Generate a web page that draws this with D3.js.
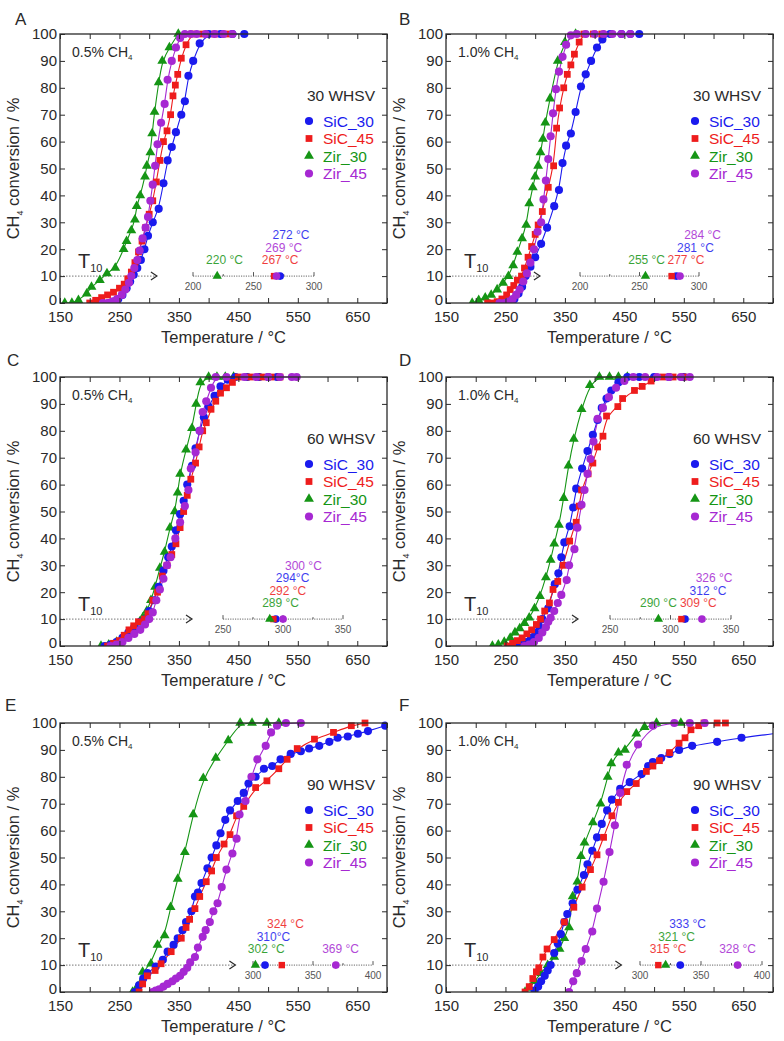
<!DOCTYPE html>
<html><head><meta charset="utf-8">
<script src="https://cdn.jsdelivr.net/npm/d3@7"></script>
<style>
body{margin:0;background:#fff}
svg{display:block}
text{font-family:"Liberation Sans",Arial,Helvetica,sans-serif}
</style>
</head><body><svg id="c" width="784" height="1041"></svg>
<script>
// ---------------- DATA ----------------
const seriesNames = ["SiC_30","SiC_45","Zir_30","Zir_45"];
const xTickValues = [150,200,250,300,350,400,450,500,550,600,650,700];
const xTickLabels = [150,250,350,450,550,650];
const yTickValues = [0,10,20,30,40,50,60,70,80,90,100];

// Panel A : 0.5% CH4, 30 WHSV  [T (°C), conversion (%)]
const A_SiC30 = [[232,0],[240,0.5],[248,1.5],[255,3],[262,5.5],[268,8],[274,10.5],[280,13],[286,16],[292,20],[298,25],[306,30],[316,35],[324,44.5],[331,53],[338,58],[345,63.5],[354,70],[360,75],[366,84.5],[374,90],[385,96.5],[400,100],[420,100],[440,100],[460,100]];
const A_SiC45 = [[200,0],[210,1],[220,2],[230,3],[240,4],[250,5.5],[258,7],[264,9],[270,11.5],[276,15],[282,19],[288,23],[294,28],[300,33],[306,38],[312,45],[318,53],[324,60],[330,64],[336,70],[340,77],[344,81],[348,85],[354,91],[362,96],[372,100],[390,100],[410,100],[430,100]];
const A_Zir30 = [[158,0],[170,0],[181,1],[195,3.5],[203,6],[217,8.5],[229,11],[243,13],[257,20],[262,23],[270,27],[276,31],[279,36],[285,40],[293,47],[296,51],[302,56],[305,63],[309,71],[316,82],[322,90],[334,95],[349,100]];
const A_Zir45 = [[222,0],[230,0],[238,0.5],[246,1.5],[254,3],[260,5],[266,7.5],[270,10],[275,13],[280,16],[284,19.5],[289,24],[294,28],[298,32],[302,38],[306,44],[310,51],[314,59],[320,67],[326,74],[331,83],[338,90],[345,95],[352,98.5],[360,100],[370,100],[380,100],[395,100],[410,100],[425,100],[440,100]];

// Panel B : 1.0% CH4, 30 WHSV
const B_SiC30 = [[250,0],[258,0.5],[265,1.5],[272,3.5],[278,6],[284,10],[292,13.5],[300,17],[310,22],[320,28],[332,36],[340,42],[346,52],[352,58.5],[360,63],[368,71],[377,80.5],[385,85],[394,90],[404,95],[413,98],[426,100],[445,100],[460,100],[475,100]];
const B_SiC45 = [[220,0],[228,0],[236,0.5],[244,1.5],[252,3],[258,5],[264,6.5],[270,8.5],[277,10],[282,13],[288,17],[294,21],[300,25.5],[305,29],[312,34],[322,43],[331,51],[336,65],[341,72.5],[348,80],[354,85],[360,88.5],[366,92.5],[374,97],[382,100],[398,100],[412,100]];
const B_Zir30 = [[194,0],[205,1],[216,2],[226,3],[236,5],[246,7.5],[255,10],[263,14],[270,19],[278,24],[285,29],[290,37],[296,43],[300,47],[305,51],[309,56],[313,61],[317,67],[325,76],[338,90],[350,97],[368,100]];
const B_Zir45 = [[240,0],[248,0],[255,0.5],[262,1.5],[268,3],[274,5],[280,8],[286,11],[292,15],[298,20],[304,26.5],[310,30],[314,38.5],[318,45.5],[322,53.5],[326,62],[330,70.5],[335,79.5],[340,86],[346,91.5],[352,96],[360,99.5],[370,100],[385,100],[400,100],[415,100],[430,100],[445,100],[460,100]];

// Panel C : 0.5% CH4, 60 WHSV
const C_SiC30 = [[225,0],[235,0.5],[245,1.5],[255,3],[265,5],[275,7],[285,9],[294,10],[300,13],[308,17],[316,22],[324,28],[332,33],[338,37],[345,43],[352,49],[358,54],[364,60],[372,67],[378,73.5],[385,80],[392,85],[400,89],[410,93],[420,96.5],[432,99],[445,100],[465,100],[485,100],[500,100],[515,100]];
const C_SiC45 = [[230,0],[240,1],[250,2],[258,4],[266,6],[274,7.5],[282,9],[292,10],[298,12],[306,17],[314,20],[322,26],[330,30],[338,34],[345,38],[352,44],[358,50],[364,56],[370,62],[378,68],[384,74],[390,80],[396,83],[404,88],[412,91],[420,94],[430,96],[440,98],[450,100],[470,100],[490,100],[505,100],[520,100]];
const C_Zir30 = [[219,0],[232,0.5],[245,1.5],[258,3],[268,5],[278,7],[284,9],[289,10.5],[296,13],[303,17],[310,22],[318,29],[326,35],[335,44],[343,50],[348,57],[352,64],[362,73],[372,81],[379,90],[386,98],[400,100],[414,100],[428,100],[442,100]];
const C_Zir45 = [[235,0],[245,0.5],[255,1.5],[265,3],[275,4.5],[285,6],[293,8],[300,10],[306,12.5],[312,17],[318,21],[324,25],[330,30],[336,33],[344,40],[352,46],[360,52],[366,58],[370,66],[378,72],[385,80],[390,87],[396,91],[404,96],[412,100],[430,100],[460,100],[480,100],[500,100],[520,100],[540,100],[548,100]];

// Panel D : 1.0% CH4, 60 WHSV
const D_SiC30 = [[265,0],[275,0.5],[285,1.5],[293,3],[300,5],[306,7.5],[312,10],[322,14],[333,23],[339,27],[344,33],[349,38.5],[358,44.5],[364,51.5],[369,58.5],[379,66],[388,72.5],[397,78.5],[405,84],[412,88.5],[420,92],[428,95],[440,98],[455,100],[475,100],[500,100],[525,100],[550,100]];
const D_SiC45 = [[253,0],[262,1],[270,2],[278,3],[286,4.5],[294,6],[302,8],[309,10],[316,13],[324,16],[330,21],[338,24],[347,30],[358,39],[369,46],[374,52],[378,58],[389,64],[397,68],[405,74],[414,78],[420,85.5],[439,89],[447,92],[467,95],[480,96.5],[495,98.5],[515,100],[532,100],[550,100]];
const D_Zir30 = [[228,0],[238,0.5],[248,1.5],[258,3],[266,5],[274,6.5],[282,8.5],[290,10.5],[299,14],[308,18.5],[318,25.5],[326,32],[332,38],[340,45],[348,55],[356,67],[365,77],[378,88],[392,97],[408,100],[425,100],[440,100],[455,100]];
const D_Zir45 = [[282,0],[290,0.5],[298,1.5],[306,3],[312,5],[318,7],[322,9],[326,10.5],[332,13],[338,16],[344,19],[353,24.5],[357,30],[366,36],[371,44],[378,52.5],[383,58],[388,64],[393,69.5],[398,76],[405,84.5],[414,88.5],[424,92.5],[436,96],[450,98.5],[465,100],[485,100],[505,100],[525,100],[545,100],[560,100]];

// Panel E : 0.5% CH4, 90 WHSV
const E_SiC30 = [[276,0],[283,2.5],[290,5],[297,7],[311,9.5],[323,12],[331,15],[341,17.5],[348,20],[356,23],[362,26],[371,30],[377,35.5],[382,37],[388,40.5],[398,46],[405,50],[413,54.5],[420,59],[428,64],[436,67.5],[449,71],[459,74],[467,77.5],[479,80],[493,83],[507,84],[521,86.5],[538,88.5],[555,89.5],[569,90.5],[586,91.5],[603,93],[617,94.5],[634,95],[651,96],[668,97],[697,99]];
const E_SiC45 = [[283,0],[289,3],[297,6],[310,8],[320,10.5],[337,15],[354,20],[362,24],[368,27],[377,31],[385,35.5],[396,41],[405,45],[413,50],[426,55],[436,58.5],[447,65.5],[459,69],[479,76],[498,78.5],[518,83],[532,86.5],[549,90.5],[578,94],[610,96.5],[640,99],[663,100]];
const E_Zir30 = [[272,0],[280,2],[289,7.5],[303,10.5],[314,17.5],[326,21],[336,31.5],[348,42],[360,52],[374,66],[391,79.5],[412,87],[433,93.5],[453,100],[473,100],[498,100],[518,100]];
const E_Zir45 = [[306,0],[311,0.5],[317,1],[324,2],[331,3],[339,4],[345,5],[352,6],[358,7.5],[364,9],[369,11],[377,13],[382,16.5],[390,20.5],[395,23],[402,26],[408,30],[415,33],[422,39],[430,45.5],[440,51.5],[447,57],[452,66],[462,71],[472,80],[482,86.5],[496,91.5],[505,96.5],[515,99],[530,100],[555,100]];

// Panel F : 1.0% CH4, 90 WHSV
const F_SiC30 = [[299,0.5],[305,2],[310,4],[316,6],[321,8],[326,10],[332,14.5],[338,18],[343,21.5],[349,26],[354,29],[363,33],[371,38],[382,43.5],[388,47.5],[396,52.5],[404,57.5],[412,62.5],[421,67.5],[429,71.5],[443,75.5],[459,78],[479,81],[490,84],[498,85.5],[512,87],[526,88.5],[542,90],[564,91.5],[606,93],[647,94.5]];
const F_SiC45 = [[283,0],[290,2],[296,5],[302,7.5],[306,9],[313,13],[320,16],[332,19.5],[349,26],[365,31.5],[379,39],[393,45.5],[404,51],[415,57.5],[429,65.5],[440,70.5],[454,74.5],[470,77.5],[487,82],[498,84],[509,86],[526,89],[542,92.5],[552,94.5],[562,97.5],[575,99],[584,100],[606,100],[620,100]];
const F_Zir30 = [[283,0],[291,1.5],[299,4],[310,7],[321,10],[332,13],[341,16],[349,20],[357,24],[363,35.5],[371,41],[377,50.5],[383,55.5],[397,63],[410,70],[422,80],[428,85],[440,89],[451,90],[470,96],[484,98.5],[504,100],[545,100]];
const F_Zir45 = [[357,0],[364,4],[370,7],[378,11.5],[385,16],[396,22.5],[404,31],[415,41],[425,52],[434,62],[443,74],[454,84.5],[473,92],[498,99],[534,100],[560,100],[585,100]];

const E_SiC30_fitEnd = [[700,99.3]];
const F_SiC30_fitEnd = [[700,96]];

// T10 values (SiC_30, SiC_45, Zir_30, Zir_45) and their labels
const t10A = [272,267,220,269];
const t10B = [281,277,255,284];
const t10C = [294,292,289,300];
const t10D = [312,309,290,326];
const t10E = [310,324,302,369];
const t10F = [333,315,321,380];
const t10TextA = ["272 °C","267 °C","220 °C","269 °C"];
const t10TextB = ["281 °C","277 °C","255 °C","284 °C"];
const t10TextC = ["294°C","292 °C","289 °C","300 °C"];
const t10TextD = ["312 °C","309 °C","290 °C","326 °C"];
const t10TextE = ["310°C","324 °C","302 °C","369 °C"];
const t10TextF = ["333 °C","315 °C","321 °C","328 °C"];

const concLabels = ["0.5%","1.0%","0.5%","1.0%","0.5%","1.0%"];
const whsvLabels = ["30 WHSV","30 WHSV","60 WHSV","60 WHSV","90 WHSV","90 WHSV"];
const insetDomains = [[200,300],[200,300],[250,350],[250,350],[300,400],[300,400]];

// ---------------- STYLE / LAYOUT ----------------
const colors = ["#1a1aee","#ee1c1c","#159515","#a628d2"];
const symbols = [d3.symbolCircle, d3.symbolSquare, d3.symbolTriangle, d3.symbolCircle];
const symSizes = [52, 46, 42, 52];
const PW = 327, PH = 269;
const layout = {
 A:{left:60, top:34, letter:[15,25], arrowT:313, insetPx:[193,314], labX:[281,272,226,275], labRow:[3,1,1,2]},
 B:{left:446,top:34, letter:[399,25], arrowT:308, insetPx:[580,699], labX:[297,289,256,303], labRow:[2,1,1,3]},
 C:{left:60, top:377,letter:[7,366], arrowT:372, insetPx:[223,343], labX:[308,304,298,317], labRow:[3,2,1,4]},
 D:{left:446,top:377,letter:[399,366],arrowT:372, insetPx:[610,731], labX:[331,323,290,336], labRow:[2,1,1,3]},
 E:{left:60, top:723,letter:[5,711], arrowT:445, insetPx:[253,373], labX:[317,327,311,373], labRow:[2,3,1,1]},
 F:{left:446,top:723,letter:[399,711],arrowT:445, insetPx:[640,762], labX:[339,323,330,380], labRow:[3,1,2,1]}
};

const panels = [
 {id:"A", series:[A_SiC30,A_SiC45,A_Zir30,A_Zir45], fitEnd:[[],[],[],[]], t10:t10A, t10Text:t10TextA},
 {id:"B", series:[B_SiC30,B_SiC45,B_Zir30,B_Zir45], fitEnd:[[],[],[],[]], t10:t10B, t10Text:t10TextB},
 {id:"C", series:[C_SiC30,C_SiC45,C_Zir30,C_Zir45], fitEnd:[[],[],[],[]], t10:t10C, t10Text:t10TextC},
 {id:"D", series:[D_SiC30,D_SiC45,D_Zir30,D_Zir45], fitEnd:[[],[],[],[]], t10:t10D, t10Text:t10TextD},
 {id:"E", series:[E_SiC30,E_SiC45,E_Zir30,E_Zir45], fitEnd:[E_SiC30_fitEnd,[],[],[]], t10:t10E, t10Text:t10TextE},
 {id:"F", series:[F_SiC30,F_SiC45,F_Zir30,F_Zir45], fitEnd:[F_SiC30_fitEnd,[],[],[]], t10:t10F, t10Text:t10TextF}
];

const svg = d3.select("#c");
const ink = "#2a2a2a";

panels.forEach((p, pi) => {
  const L = layout[p.id];
  const x = d3.scaleLinear().domain([150,700]).range([L.left, L.left + PW]);
  const y = d3.scaleLinear().domain([0,100]).range([L.top + PH, L.top]);
  const g = svg.append("g");

  const clipId = "clip" + p.id;
  g.append("clipPath").attr("id", clipId).append("rect")
    .attr("x", L.left).attr("y", L.top - 6).attr("width", PW).attr("height", PH + 6);

  // T10 dotted guide + arrow
  const y10 = y(10);
  g.append("line").attr("x1", L.left).attr("x2", x(L.arrowT)).attr("y1", y10).attr("y2", y10)
    .attr("stroke", "#666").attr("stroke-width", 0.9).attr("stroke-dasharray", "1.5,1.5");
  g.append("path").attr("d", `M${x(L.arrowT)-6},${y10-4}L${x(L.arrowT)},${y10}L${x(L.arrowT)-6},${y10+4}`)
    .attr("fill", "none").attr("stroke", ink).attr("stroke-width", 1.2);
  const tt = g.append("text").attr("x", L.left + 18).attr("y", y10 - 8).attr("fill", ink).style("font-size", "20px");
  tt.append("tspan").text("T");
  tt.append("tspan").text("10").style("font-size", "11px").attr("dy", 4);

  // inset axis
  const xi = d3.scaleLinear().domain(insetDomains[pi]).range(L.insetPx);
  const di = insetDomains[pi];
  g.append("line").attr("x1", L.insetPx[0]).attr("x2", L.insetPx[1]).attr("y1", y10).attr("y2", y10)
    .attr("stroke", "#555").attr("stroke-width", 0.9).attr("stroke-dasharray", "1.2,1.2");
  const iTicks = d3.range(di[0], di[1] + 1, 25);
  g.selectAll(null).data(iTicks).join("line")
    .attr("x1", d => xi(d)).attr("x2", d => xi(d))
    .attr("y1", (d, i) => y10 - (i % 2 === 0 ? 4 : 2)).attr("y2", y10)
    .attr("stroke", "#444").attr("stroke-width", 0.9);
  g.selectAll(null).data(iTicks.filter((d, i) => i % 2 === 0)).join("text")
    .attr("x", d => xi(d)).attr("y", y10 + 14).attr("text-anchor", "middle")
    .attr("fill", "#555").style("font-size", "10px").text(d => d);

  // curves
  const line = d3.line().x(d => x(d[0])).y(d => y(d[1])).curve(d3.curveBasis);
  const cg = g.append("g").attr("clip-path", `url(#${clipId})`);
  p.series.forEach((s, si) => {
    const sorted = s.concat(p.fitEnd[si]).sort((a, b) => a[0] - b[0]);
    cg.append("path").attr("d", line(sorted)).attr("fill", "none")
      .attr("stroke", colors[si]).attr("stroke-width", 1.1);
  });
  // markers
  [2, 0, 1, 3].forEach(si => {
    cg.selectAll(null).data(p.series[si]).join("path")
      .attr("d", d3.symbol().type(symbols[si]).size(symSizes[si]))
      .attr("transform", d => `translate(${x(d[0])},${y(d[1])})`)
      .attr("fill", colors[si]);
  });

  // inset markers + labels
  p.t10.forEach((v, si) => {
    g.append("path").attr("d", d3.symbol().type(symbols[si]).size(symSizes[si] * 0.9)())
      .attr("transform", `translate(${xi(v)},${y10})`).attr("fill", colors[si]);
    g.append("text").attr("x", xi(L.labX[si])).attr("y", y10 - 12 - (L.labRow[si] - 1) * 12.5)
      .attr("text-anchor", "middle").attr("fill", colors[si]).attr("opacity", 0.85)
      .style("font-size", "12px").text(p.t10Text[si]);
  });

  // axes
  const ax = g.append("g").attr("transform", `translate(0,${L.top + PH})`)
    .call(d3.axisBottom(x).tickValues(xTickValues).tickSize(-5).tickPadding(8)
      .tickFormat(d => xTickLabels.includes(d) ? d : ""));
  const axT = g.append("g").attr("transform", `translate(0,${L.top})`)
    .call(d3.axisTop(x).tickValues(xTickValues).tickSize(-5).tickFormat(""));
  const ay = g.append("g").attr("transform", `translate(${L.left},0)`)
    .call(d3.axisLeft(y).tickValues(yTickValues).tickSize(-5).tickPadding(3));
  const ayR = g.append("g").attr("transform", `translate(${L.left + PW},0)`)
    .call(d3.axisRight(y).tickValues(yTickValues).tickSize(-5).tickFormat(""));
  [ax, axT, ay, ayR].forEach(a => {
    a.select(".domain").remove();
    a.selectAll("line").attr("stroke", ink).attr("stroke-width", 1);
    a.selectAll("text").attr("fill", ink).style("font-size", "15px")
      .style("font-family", '"Liberation Sans",Arial,sans-serif');
  });
  ay.selectAll(".tick").filter(d => d === 0).select("text").attr("dy", "0.1em");

  // frame
  g.append("rect").attr("x", L.left).attr("y", L.top).attr("width", PW).attr("height", PH)
    .attr("fill", "none").attr("stroke", ink).attr("stroke-width", 1.3);

  // titles
  g.append("text").attr("x", L.left + PW / 2).attr("y", L.top + PH + 40).attr("text-anchor", "middle")
    .attr("fill", ink).style("font-size", "16.5px").text("Temperature / °C");
  const yt = g.append("text").attr("transform", `translate(${L.left - 41},${L.top + PH / 2}) rotate(-90)`)
    .attr("text-anchor", "middle").attr("fill", ink).style("font-size", "16.5px");
  yt.append("tspan").text("CH");
  yt.append("tspan").text("4").style("font-size", "9px").attr("dy", 4);
  yt.append("tspan").text(" conversion / %").attr("dy", -4);

  // panel letter
  g.append("text").attr("x", L.letter[0]).attr("y", L.letter[1]).attr("fill", ink)
    .style("font-size", "17px").text(p.id);

  // concentration label
  const cl = g.append("text").attr("x", L.left + 12).attr("y", L.top + 23).attr("fill", ink).style("font-size", "14px");
  cl.append("tspan").text(concLabels[pi] + " CH");
  cl.append("tspan").text("4").style("font-size", "8px").attr("dy", 3);

  // legend
  const R = L.left + PW;
  g.append("text").attr("x", R - 12).attr("y", L.top + 67).attr("text-anchor", "end")
    .attr("fill", ink).style("font-size", "15.5px").text(whsvLabels[pi]);
  seriesNames.forEach((n, si) => {
    const cy = L.top + 87 + si * 17.5;
    g.append("path").attr("d", d3.symbol().type(symbols[si]).size(symSizes[si])())
      .attr("transform", `translate(${R - 78},${cy})`).attr("fill", colors[si]);
    g.append("text").attr("x", R - 64).attr("y", cy + 5.5).attr("fill", colors[si])
      .style("font-size", "15.5px").text(n);
  });
});
</script></body></html>
